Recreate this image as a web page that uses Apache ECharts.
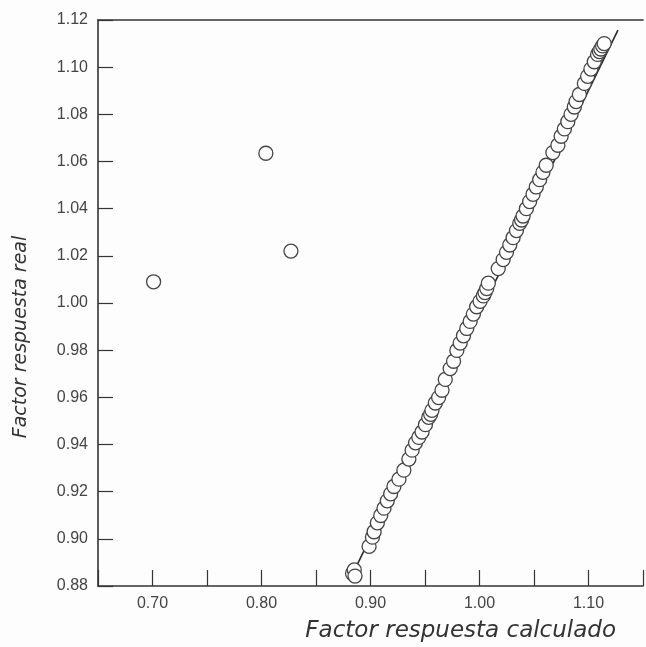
<!DOCTYPE html>
<html>
<head>
<meta charset="utf-8">
<script src="https://cdn.jsdelivr.net/npm/echarts@6/dist/echarts.min.js"></script>
<style>
  html, body { margin: 0; padding: 0; background: #fdfdfd; }
  #chart { width: 646px; height: 647px; }
</style>
</head>
<body>
<div id="chart"></div>
<script>
  // factor calculado (x) / factor real (y)
  const calcX = [
    0.8835, 0.8851, 0.8858, 0.8987, 0.9018, 0.9033, 0.9063, 0.9094, 0.9124, 0.9154, 0.9185,
    0.9215, 0.9261, 0.9306, 0.9352, 0.9382, 0.9413, 0.9443, 0.9473, 0.9504, 0.9534,
    0.9552, 0.9564, 0.9595, 0.9625, 0.9656, 0.9686, 0.9731, 0.9762, 0.9792, 0.9823, 0.9853,
    0.9883, 0.9914, 0.9944, 0.9974, 1.0005, 1.0035, 1.0050, 1.0066, 1.0081, 1.0172, 1.0217,
    1.0248, 1.0278, 1.0308, 1.0339, 1.0369, 1.0386, 1.0400, 1.0430, 1.0460, 1.0491, 1.0521,
    1.0552, 1.0582, 1.0612, 1.0673, 1.0719, 1.0749, 1.0779, 1.0810, 1.0840, 1.0870,
    1.0886, 1.0916, 1.0962, 1.0992, 1.1022, 1.1053, 1.1083, 1.1100, 1.1113, 1.1130, 1.1144,
    0.701, 0.804, 0.827
  ]
  const realY = [
    0.8853, 0.8868, 0.8842, 0.8968, 0.9007, 0.9030, 0.9068, 0.9099, 0.9130, 0.9161, 0.9191,
    0.9222, 0.9253, 0.9291, 0.9338, 0.9376, 0.9407, 0.9430, 0.9453, 0.9484, 0.9515,
    0.9528, 0.9545, 0.9576, 0.9599, 0.9630, 0.9676, 0.9722, 0.9753, 0.9799, 0.9830, 0.9861,
    0.9892, 0.9922, 0.9953, 0.9984, 1.0007, 1.0030, 1.0044, 1.0061, 1.0084, 1.0146, 1.0184,
    1.0215, 1.0246, 1.0277, 1.0307, 1.0338, 1.0352, 1.0369, 1.0400, 1.0430, 1.0461, 1.0492,
    1.0523, 1.0554, 1.0584, 1.0638, 1.0669, 1.0707, 1.0738, 1.0769, 1.0800, 1.0831,
    1.0854, 1.0884, 1.0931, 1.0961, 1.0992, 1.1023, 1.1054, 1.1066, 1.1077, 1.1090, 1.1100,
    1.009, 1.0635, 1.022
  ]
  // recta de referencia
  const lineX = [0.884, 1.127]
  const lineY = [0.8855, 1.1157]

  const xLabels = ['0.70', '0.80', '0.90', '1.00', '1.10']

  const ink = '#333'
  const chart = echarts.init(document.getElementById('chart'))
  const option = {
    backgroundColor: '#fdfdfd',
    animation: false,
    grid: { left: 98, right: 0, top: 20, bottom: 61 },
    xAxis: [{
      type: 'value',
      position: 'bottom',
      min: 0.65,
      max: 1.15,
      interval: 0.05,
      axisLine: { show: true, lineStyle: { color: ink, width: 1.6 } },
      axisTick: { show: true, inside: true, length: 16, lineStyle: { color: ink, width: 1.2 } },
      axisLabel: {
        color: '#444',
        fontFamily: 'Liberation Sans',
        fontSize: 16,
        margin: 10,
        formatter: v => {
          const s = v.toFixed(2)
          return xLabels.includes(s) ? s : ''
        }
      },
      splitLine: { show: false }
    }, {
      type: 'value',
      position: 'top',
      min: 0.65,
      max: 1.15,
      axisLine: { show: true, onZero: false, lineStyle: { color: ink, width: 1.6 } },
      axisTick: { show: false },
      axisLabel: { show: false },
      splitLine: { show: false }
    }],
    yAxis: {
      type: 'value',
      min: 0.88,
      max: 1.12,
      interval: 0.02,
      axisLine: { show: true, lineStyle: { color: ink, width: 1.6 } },
      axisTick: { show: true, inside: true, length: 15, lineStyle: { color: ink, width: 1.2 } },
      axisLabel: {
        color: '#444',
        fontFamily: 'Liberation Sans',
        fontSize: 16,
        margin: 10,
        formatter: v => v.toFixed(2)
      },
      splitLine: { show: false }
    },
    graphic: [{
      type: 'text',
      right: 30,
      top: 620,
      style: {
        text: 'Factor respuesta calculado',
        fill: '#333',
        font: 'italic 23px "DejaVu Sans"'
      }
    }, {
      type: 'text',
      x: 21,
      y: 337,
      rotation: Math.PI / 2,
      style: {
        text: 'Factor respuesta real',
        fill: '#333',
        font: 'italic 19px "DejaVu Sans"',
        align: 'center',
        verticalAlign: 'middle'
      }
    }],
    series: [{
      type: 'line',
      z: 1,
      symbol: 'none',
      lineStyle: { color: '#2a2a2a', width: 1.6 },
      data: lineX.map((x, i) => [x, lineY[i]])
    }, {
      type: 'scatter',
      z: 2,
      symbol: 'circle',
      symbolSize: 14,
      itemStyle: { color: '#fdfdfd', borderColor: '#444', borderWidth: 1.3, opacity: 1 },
      data: calcX.map((x, i) => [x, realY[i]])
    }]
  }
  chart.setOption(option)
</script>
</body>
</html>
